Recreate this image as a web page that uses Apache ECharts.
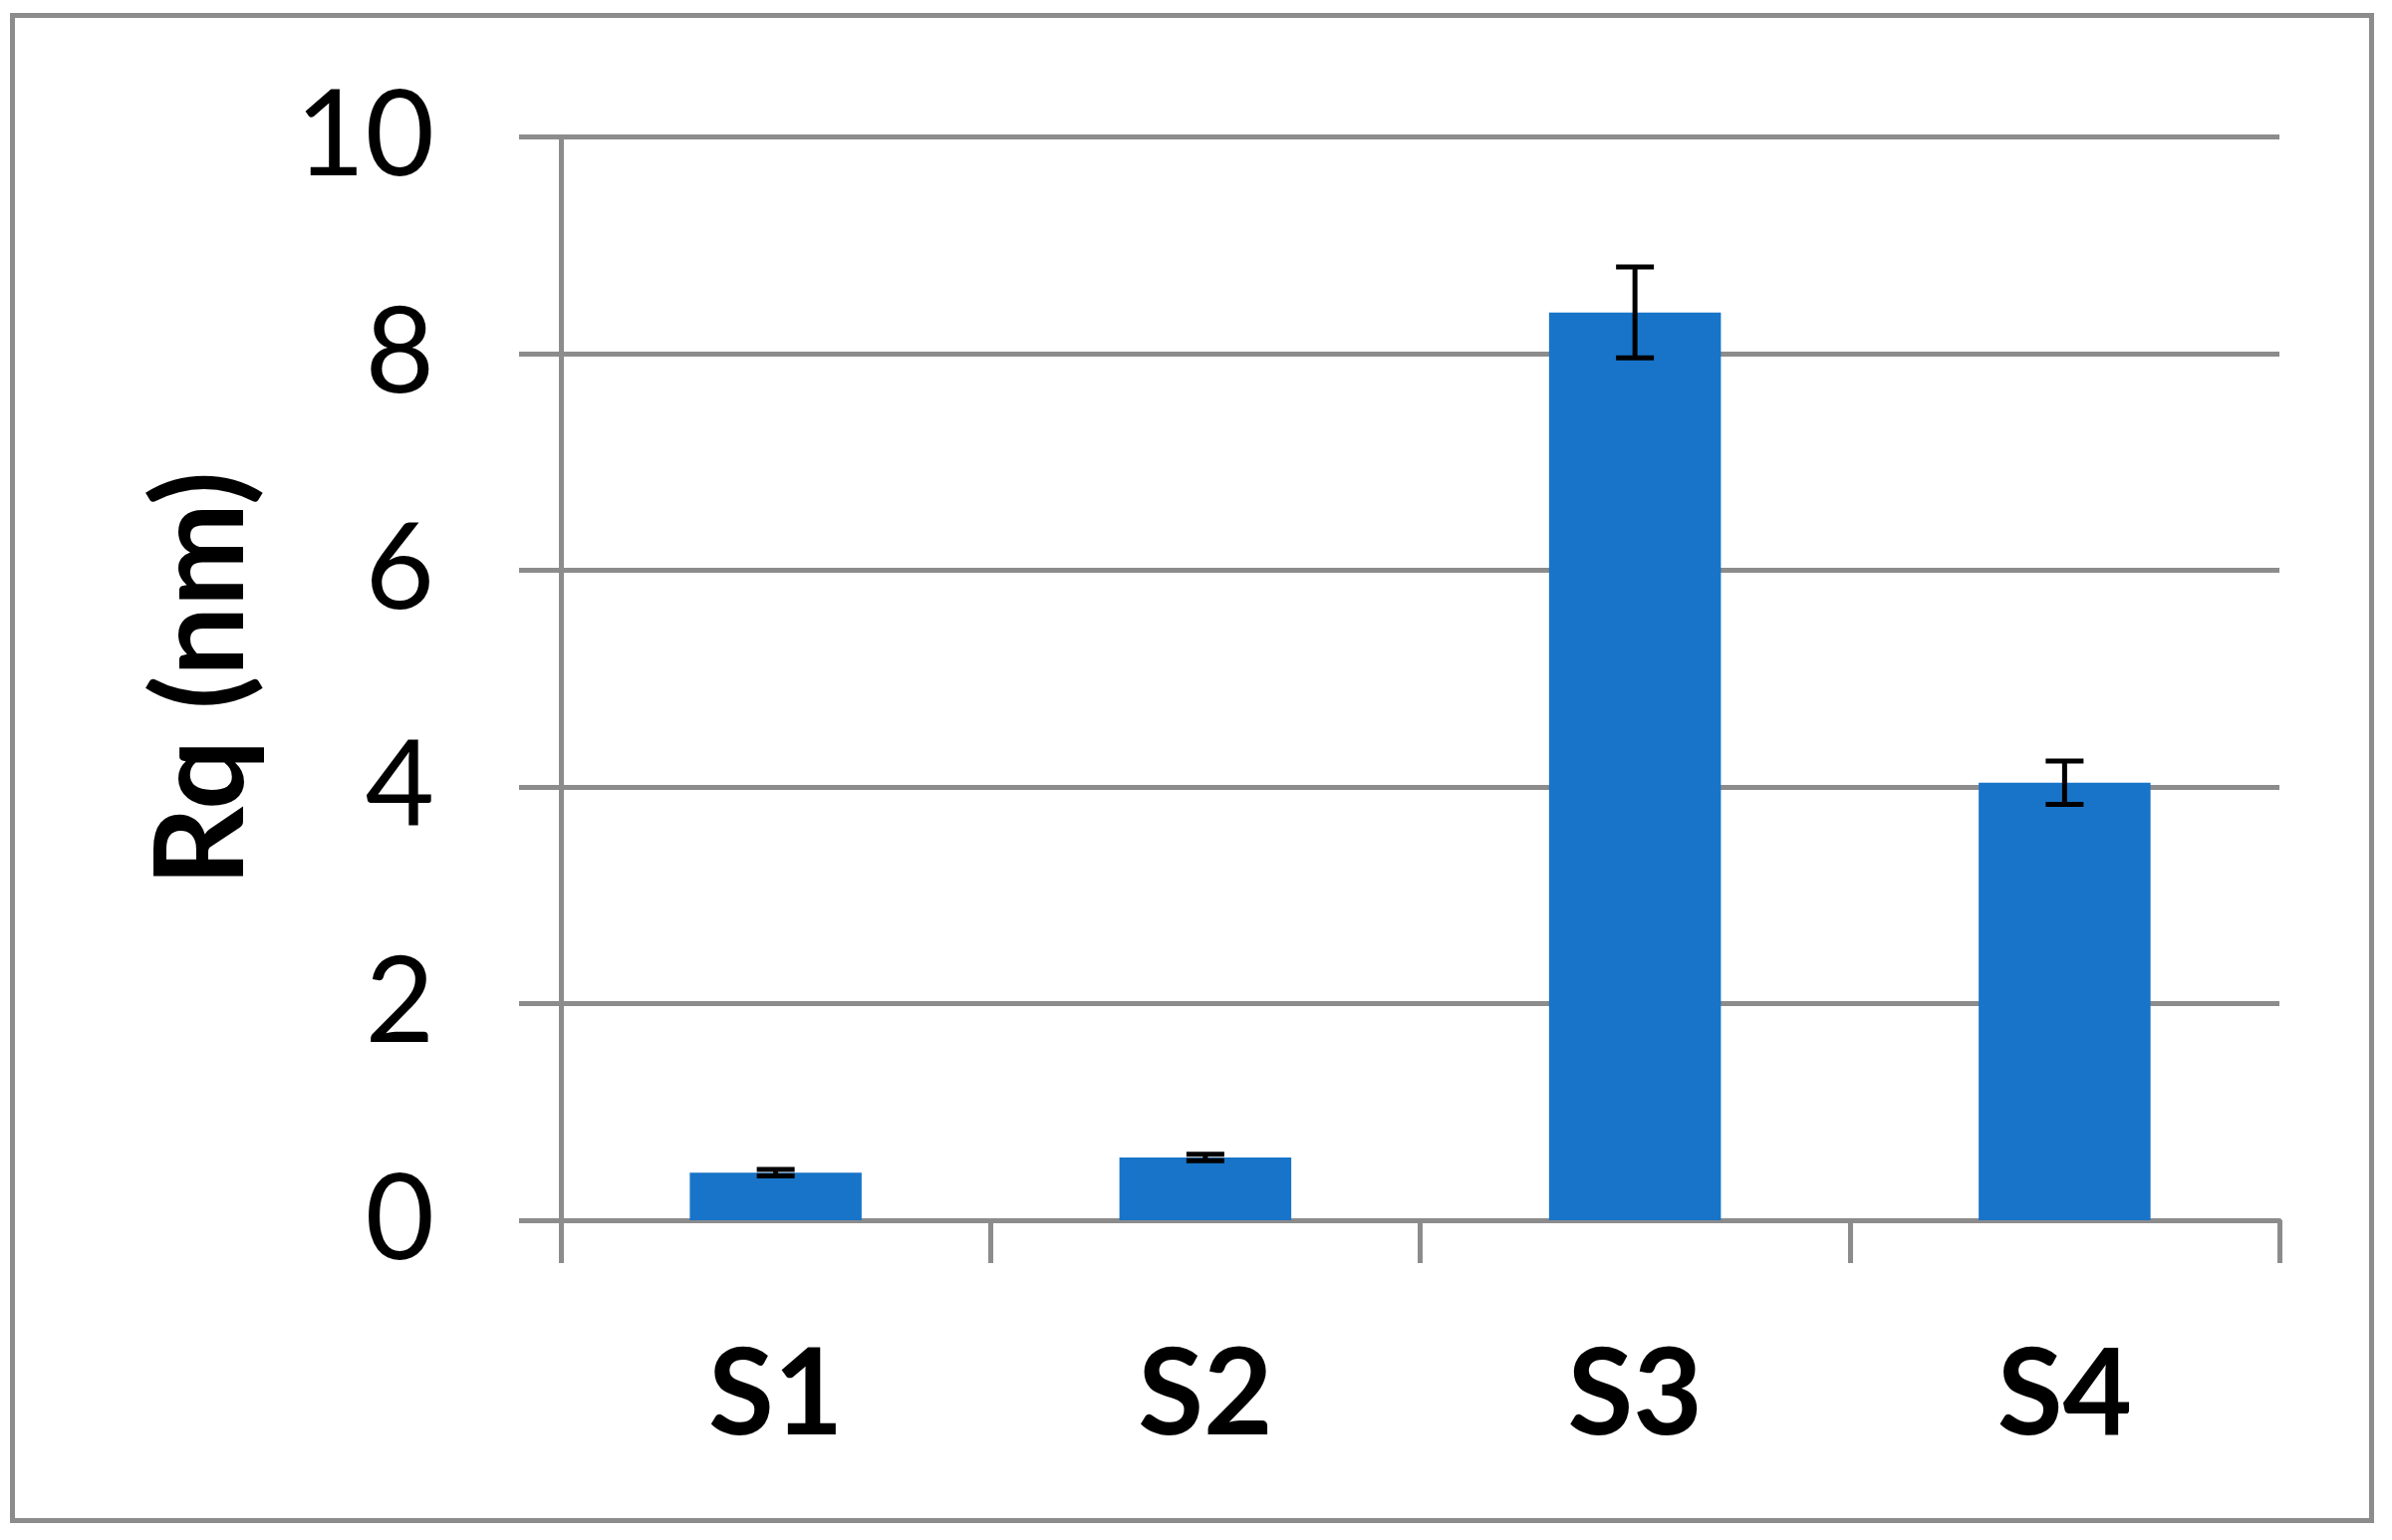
<!DOCTYPE html>
<html>
<head>
<meta charset="utf-8">
<script src="https://cdn.jsdelivr.net/npm/echarts@6/dist/echarts.min.js"></script>
<style>
html,body{margin:0;padding:0;background:#fff;}
#chart{width:2401px;height:1546px;}
</style>
</head>
<body>
<div id="chart"></div>
<script>
const categories = ['S1', 'S2', 'S3', 'S4'];
const values = [0.44, 0.58, 8.38, 4.04];
const errors = [0.03, 0.03, 0.42, 0.20];
const yTicks = { min: 0, max: 10, interval: 2 };
const yTitle = 'Rq (nm)';

const gray = '#8c8c8c';
const font = 'Lato, "Open Sans", sans-serif';

const chart = echarts.init(document.getElementById('chart'));
const errData = categories.map((c, i) => [i, values[i] - errors[i], values[i] + errors[i]]);

chart.setOption({
  backgroundColor: '#fff',
  animation: false,
  graphic: [{
    type: 'rect',
    shape: { x: 12.5, y: 15.5, width: 2368, height: 1511 },
    style: { fill: 'none', stroke: gray, lineWidth: 5 },
    z: 100
  }],
  grid: { left: 563, right: 113, top: 137.5, bottom: 321 },
  xAxis: {
    type: 'category',
    data: categories,
    axisLine: { show: true, lineStyle: { color: gray, width: 5 } },
    axisTick: { show: true, length: 43, alignWithLabel: false, lineStyle: { color: gray, width: 5 } },
    axisLabel: { color: '#000', fontFamily: font, fontWeight: 'bold', fontSize: 120, margin: 116, lineHeight: 120 }
  },
  yAxis: {
    type: 'value',
    min: yTicks.min, max: yTicks.max, interval: yTicks.interval,
    name: yTitle,
    nameLocation: 'middle',
    nameGap: 297,
    nameTextStyle: { color: '#000', fontFamily: font, fontWeight: 'bold', fontSize: 124 },
    axisLine: { show: true, lineStyle: { color: gray, width: 5 } },
    axisTick: { show: true, length: 42, lineStyle: { color: gray, width: 5 } },
    splitLine: { show: true, lineStyle: { color: gray, width: 5 } },
    axisLabel: { color: '#000', fontFamily: font, fontSize: 120, margin: 127 }
  },
  series: [{
    type: 'bar',
    data: values,
    barWidth: '40%',
    itemStyle: { color: '#1874c8' },
    z: 2
  }, {
    type: 'custom',
    data: errData,
    z: 10,
    renderItem: function (params, api) {
      const x = api.value(0);
      const lo = api.coord([x, api.value(1)]);
      const hi = api.coord([x, api.value(2)]);
      const hw = 19;
      const st = { stroke: '#000', lineWidth: 5 };
      return {
        type: 'group',
        children: [
          { type: 'line', shape: { x1: lo[0], y1: lo[1], x2: hi[0], y2: hi[1] }, style: st },
          { type: 'line', shape: { x1: lo[0] - hw, y1: lo[1], x2: lo[0] + hw, y2: lo[1] }, style: st },
          { type: 'line', shape: { x1: hi[0] - hw, y1: hi[1], x2: hi[0] + hw, y2: hi[1] }, style: st }
        ]
      };
    }
  }]
});
</script>
</body>
</html>
